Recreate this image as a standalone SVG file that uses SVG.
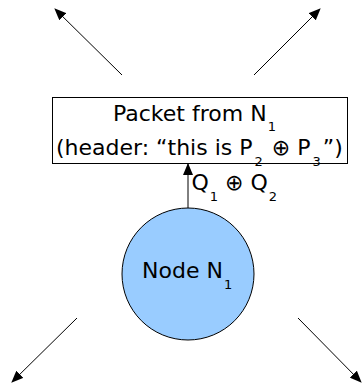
<svg xmlns="http://www.w3.org/2000/svg" width="362" height="383" viewBox="0 0 362 383">
<style>
text{font-family:"DejaVu Sans",sans-serif;font-size:22px;fill:#000}
.sub{font-size:13px}
.edge{stroke:#000;stroke-width:1;fill:none;marker-end:url(#ah)}
</style>
<defs>
<marker id="ah" viewBox="0 0 12 10" refX="11" refY="5" markerWidth="12" markerHeight="10" markerUnits="userSpaceOnUse" orient="auto">
<path d="M0,0 L12,5 L0,10 z" fill="#000"/>
</marker>
</defs>
<rect width="362" height="383" fill="#fff"/>
<g id="packet">
<rect x="52.5" y="97.5" width="295" height="66" fill="#fff" stroke="#000"/>
<text x="113" y="121">Packet from N<tspan class="sub" dx="1" dy="10">1</tspan></text>
<text x="56" y="155">(header: “this is P<tspan class="sub" dx="2" dy="11">2</tspan><tspan dx="2" dy="-11"> ⊕ P</tspan><tspan class="sub" dx="2" dy="11">3</tspan><tspan dx="2" dy="-11">”)</tspan></text>
</g>
<g id="node">
<circle cx="188" cy="274" r="66" fill="#99ccff" stroke="#000"/>
<text x="142" y="278">Node N<tspan class="sub" dx="1" dy="11">1</tspan></text>
</g>
<g id="connectors">
<line class="edge" x1="188" y1="208" x2="188" y2="164"/>
<text x="191.5" y="190">Q<tspan class="sub" dx="1" dy="11">1</tspan><tspan dy="-11"> ⊕ Q</tspan><tspan class="sub" dx="1" dy="11">2</tspan></text>
<line class="edge" x1="122" y1="75" x2="55" y2="9"/>
<line class="edge" x1="254" y1="75" x2="320" y2="9"/>
<line class="edge" x1="77" y1="318" x2="12" y2="382"/>
<line class="edge" x1="298" y1="318" x2="361" y2="382"/>
</g>
</svg>
